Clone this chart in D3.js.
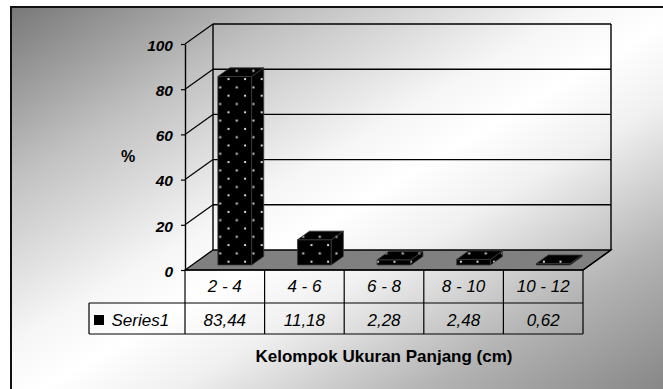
<!DOCTYPE html>
<html>
<head>
<meta charset="utf-8">
<script src="https://cdn.jsdelivr.net/npm/d3@7"></script>
<style>
  html, body { margin: 0; padding: 0; background: #fff; }
  svg { display: block; }
  text { font-family: "Liberation Sans", Arial, sans-serif; fill: #000; }
</style>
</head>
<body>
<svg id="chart" width="663" height="389"></svg>
<script>
// Length-class share of the catch (%)
const categories = ["2 - 4", "4 - 6", "6 - 8", "8 - 10", "10 - 12"];
const values = [83.44, 11.18, 2.28, 2.48, 0.62];
const yTicks = [0, 20, 40, 60, 80, 100];
const seriesName = "Series1";
const yTitle = "%";
const xTitle = "Kelompok Ukuran Panjang (cm)";

const svg = d3.select("#chart");

// 3D plot geometry: front plane of the box plus a depth offset to the back wall
const DX = 28, DY = -20;
const x = d3.scaleBand().domain(categories).range([185, 583]).paddingInner(0).paddingOuter(0);
const y = d3.scaleLinear().domain([0, 100]).range([270, 44]);
const bw = x.bandwidth();
const x0 = x.range()[0], x1 = x.range()[1];
const P = (xf, v, d) => [xf + d * DX, y(v) + d * DY];
const poly = pts => pts.map(p => p.join(",")).join(" ");

const defs = svg.append("defs");
const grad = defs.append("linearGradient")
  .attr("id", "bg").attr("x1", 0).attr("y1", 0).attr("x2", 1).attr("y2", 1);
[[0, "#787878"], [0.22, "#c2c2c2"], [0.42, "#f6f6f6"], [0.5, "#ffffff"], [0.6, "#f0f0f0"], [0.78, "#b4b4b4"], [1, "#7c7c7c"]]
  .forEach(([o, c]) => grad.append("stop").attr("offset", o).attr("stop-color", c));

// Dotted black fill used for the columns
const pat = defs.append("pattern")
  .attr("id", "dots").attr("patternUnits", "userSpaceOnUse")
  .attr("width", 16.6).attr("height", 16.6);
pat.append("rect").attr("width", 16.6).attr("height", 16.6).attr("fill", "#000");
pat.append("rect").attr("x", 3.4).attr("y", 3.4).attr("width", 2).attr("height", 2).attr("fill", "#d8d8d8");
pat.append("rect").attr("x", 11.7).attr("y", 11.7).attr("width", 2).attr("height", 2).attr("fill", "#d8d8d8");

// Chart area background
svg.append("rect")
  .attr("x", 11).attr("y", 7).attr("width", 680).attr("height", 400)
  .attr("fill", "url(#bg)").attr("stroke", "#111").attr("stroke-width", 2);

const g = svg.append("g");

// Floor
g.append("polygon")
  .attr("points", poly([P(x0, 0, 0), P(x1, 0, 0), P(x1, 0, 1), P(x0, 0, 1)]))
  .attr("fill", "#808080").attr("stroke", "#000").attr("stroke-width", 1.3);

// Back-wall gridlines and the side-wall diagonals
yTicks.filter(t => t > 0).forEach(t => {
  const a = P(x0, t, 1), b = P(x1, t, 1), c = P(x0, t, 0);
  g.append("line").attr("x1", a[0]).attr("y1", a[1]).attr("x2", b[0]).attr("y2", b[1])
    .attr("stroke", "#000").attr("stroke-width", 1.4);
  g.append("line").attr("x1", c[0]).attr("y1", c[1]).attr("x2", a[0]).attr("y2", a[1])
    .attr("stroke", "#000").attr("stroke-width", 1.2);
});
[x0, x1].forEach(xx => {
  const a = P(xx, 0, 1), b = P(xx, 100, 1);
  g.append("line").attr("x1", a[0]).attr("y1", a[1]).attr("x2", b[0]).attr("y2", b[1])
    .attr("stroke", "#000").attr("stroke-width", 1.4);
});

// Columns
const D1 = 0.25, D2 = 0.68;
categories.forEach((cat, i) => {
  const v = values[i];
  const xl = x(cat) + 0.325 * bw, xr = xl + 0.425 * bw;
  const faces = [
    [P(xl, 0, D1), P(xr, 0, D1), P(xr, v, D1), P(xl, v, D1)],
    [P(xr, 0, D1), P(xr, 0, D2), P(xr, v, D2), P(xr, v, D1)],
    [P(xl, v, D1), P(xr, v, D1), P(xr, v, D2), P(xl, v, D2)]
  ];
  faces.forEach(f => {
    g.append("polygon").attr("points", poly(f))
      .attr("fill", "url(#dots)").attr("stroke", "#3a3a3a").attr("stroke-width", 0.8)
      .attr("stroke-linejoin", "round");
  });
});

// Value axis on the front-left edge
const axis = d3.axisLeft(y).tickValues(yTicks).tickSize(4).tickSizeOuter(0).tickPadding(8)
  .tickFormat(d3.format("d"));
const ag = svg.append("g").attr("transform", `translate(${x0},0)`).call(axis);
ag.select(".domain").attr("stroke", "#000").attr("stroke-width", 1.4);
ag.selectAll(".tick line").attr("stroke", "#000").attr("stroke-width", 1.2);
ag.selectAll(".tick text")
  .attr("font-family", "'Liberation Sans', Arial, sans-serif")
  .attr("font-size", 15.5).attr("font-weight", "bold").attr("font-style", "italic")
  .attr("fill", "#000").attr("dy", "0.4em");

svg.append("text").attr("x", 128).attr("y", 162).attr("text-anchor", "middle")
  .attr("font-size", 16).attr("font-weight", "bold").text(yTitle);

// Data table under the plot
const rowTop = 270, rowMid = 303, rowBot = 334, legLeft = 89;
const tg = svg.append("g").attr("stroke", "#000").attr("stroke-width", 1.2);
tg.append("line").attr("x1", x0).attr("x2", x1).attr("y1", rowTop).attr("y2", rowTop);
tg.append("line").attr("x1", legLeft).attr("x2", x1).attr("y1", rowMid).attr("y2", rowMid);
tg.append("line").attr("x1", legLeft).attr("x2", x1).attr("y1", rowBot).attr("y2", rowBot);
tg.append("line").attr("x1", legLeft).attr("x2", legLeft).attr("y1", rowMid).attr("y2", rowBot);
categories.concat([null]).forEach(cat => {
  const xx = cat === null ? x1 : x(cat);
  tg.append("line").attr("x1", xx).attr("x2", xx).attr("y1", rowTop).attr("y2", rowBot);
});
// right floor edge
const fr0 = P(x1, 0, 0), fr1 = P(x1, 0, 1);
svg.append("line").attr("x1", fr0[0]).attr("y1", fr0[1]).attr("x2", fr1[0]).attr("y2", fr1[1])
  .attr("stroke", "#000").attr("stroke-width", 1.3);

const fmt = v => d3.format(".2f")(v).replace(".", ",");
categories.forEach((cat, i) => {
  const cx = x(cat) + bw / 2;
  svg.append("text").attr("x", cx).attr("y", 292).attr("text-anchor", "middle")
    .attr("font-size", 17).attr("font-style", "italic").text(cat);
  svg.append("text").attr("x", cx).attr("y", 325.5).attr("text-anchor", "middle")
    .attr("font-size", 17).attr("font-style", "italic").text(fmt(values[i]));
});

// Legend key
svg.append("rect").attr("x", 94).attr("y", 315).attr("width", 10).attr("height", 10).attr("fill", "#000");
svg.append("text").attr("x", 111.5).attr("y", 325.5).attr("font-size", 17).attr("font-style", "italic")
  .text(seriesName);

// Category axis title
svg.append("text").attr("x", (x0 + x1) / 2).attr("y", 361.5).attr("text-anchor", "middle")
  .attr("font-size", 17).attr("font-weight", "bold").text(xTitle);
</script>
</body>
</html>
